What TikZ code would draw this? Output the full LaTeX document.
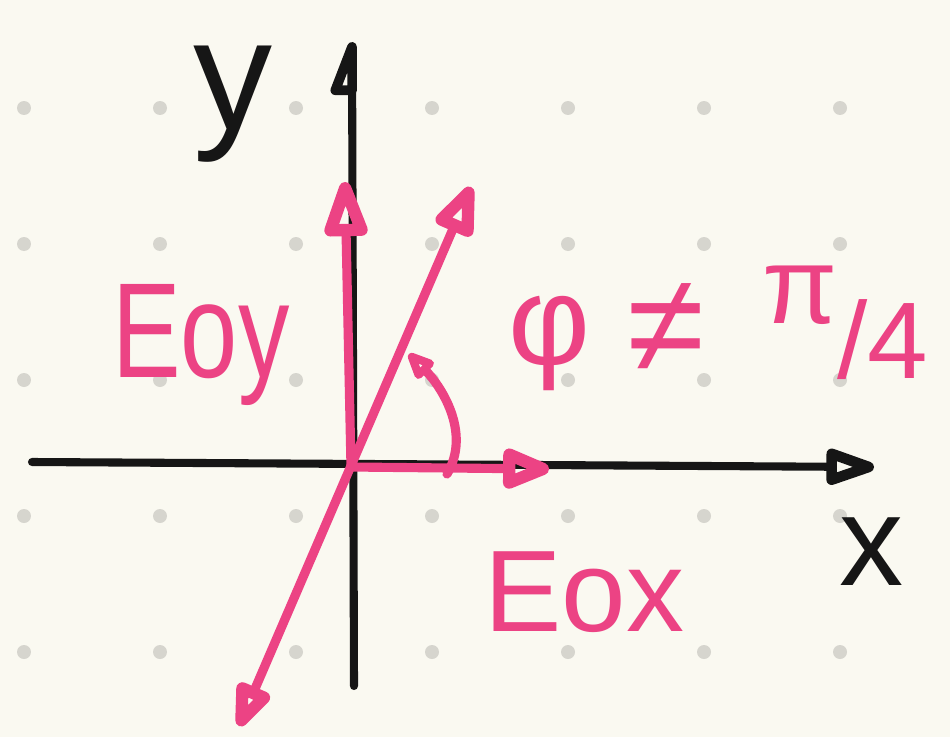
\documentclass[tikz,border=0pt]{standalone}
\usepackage{fontspec}
\setmainfont{Liberation Sans}
\usepackage{tikz}
\usetikzlibrary{arrows.meta,positioning,calc}
\definecolor{paper}{HTML}{FAF9F1}
\definecolor{griddot}{HTML}{D6D5CE}
\definecolor{ink}{HTML}{161616}
\definecolor{rose}{HTML}{EC4384}

\begin{document}
\begin{tikzpicture}[
  x=0.02cm, y=-0.02cm,
  axis/.style={draw=ink, line width=4.6pt, line cap=round, line join=round},
  vec/.style={draw=rose, line width=5.2pt, line cap=round, line join=round},
  head/.style={-{Triangle[open, line width=7pt, length=1.35cm, width=0.9cm, round]}},
  lbl/.style={text=rose, inner sep=0pt},
  axlbl/.style={text=ink, inner sep=0pt}
]

\fill[paper] (0,0) rectangle (950,737);
\useasboundingbox (0,0) rectangle (950,737);
\foreach \i in {24,160,...,840}
  \foreach \j in {108,244,...,652}
    \fill[griddot] (\i,\j) circle[radius=0.14cm];

\coordinate (O) at (351,467);
\coordinate (xL) at (32,462);
\coordinate (xR) at (874,467);
\coordinate (yB) at (354,686);
\coordinate (yT) at (352,42);
\coordinate (Ey) at (345,182);
\coordinate (Ex) at (549,469);
\coordinate (Et) at (471,187);
\coordinate (Eb) at (239,726);
\coordinate (aS) at (447,474);
\coordinate (aE) at (409,354);

\draw[axis, -{Triangle[open, line width=6pt, length=1.2cm, width=0.75cm, round]}] (xL) -- (xR);
\draw[axis, -{Triangle[open, harpoon, line width=5.5pt, length=1.25cm, width=0.9cm, round]}] (yB) -- (yT);

\draw[vec, head] (O) -- (Ey);
\draw[vec, -{Triangle[open, line width=7pt, length=1.15cm, width=0.85cm, round]}] (O) -- (Ex);
\draw[vec, {Triangle[open, line width=7pt, length=1.1cm, width=0.75cm, round]}-{Triangle[open, line width=7pt, length=1.2cm, width=0.85cm, round]}] (Eb) -- (Et);
\draw[vec, -{Triangle[open, line width=6pt, length=0.65cm, width=0.52cm, round]}] (aS) .. controls (472,432) and (440,385) .. (aE);

\node[axlbl, font=\fontsize{90}{90}\selectfont] (ylab) at (233,104) {y};
\node[axlbl, font=\fontsize{73}{73}\selectfont] (xlab) at (872,552) {x};
\node[lbl, font=\fontsize{77}{77}\selectfont, xscale=0.76, anchor=base west] (eoy) at (112,377) {Eoy};
\node[lbl, font=\fontsize{66}{66}\selectfont, anchor=base west] (eox) at (484,631) {Eox};
\node[lbl, font=\fontsize{72}{72}\selectfont] (phi) at (550,343) {φ};
\node[lbl, font=\fontsize{80}{80}\selectfont] (neq) at (666,328) {≠};
\node[lbl, font=\fontsize{62}{62}\selectfont, anchor=base west] (frac) at (762,378) {\raisebox{0.5em}{π}/4};

\end{tikzpicture}
\end{document}
